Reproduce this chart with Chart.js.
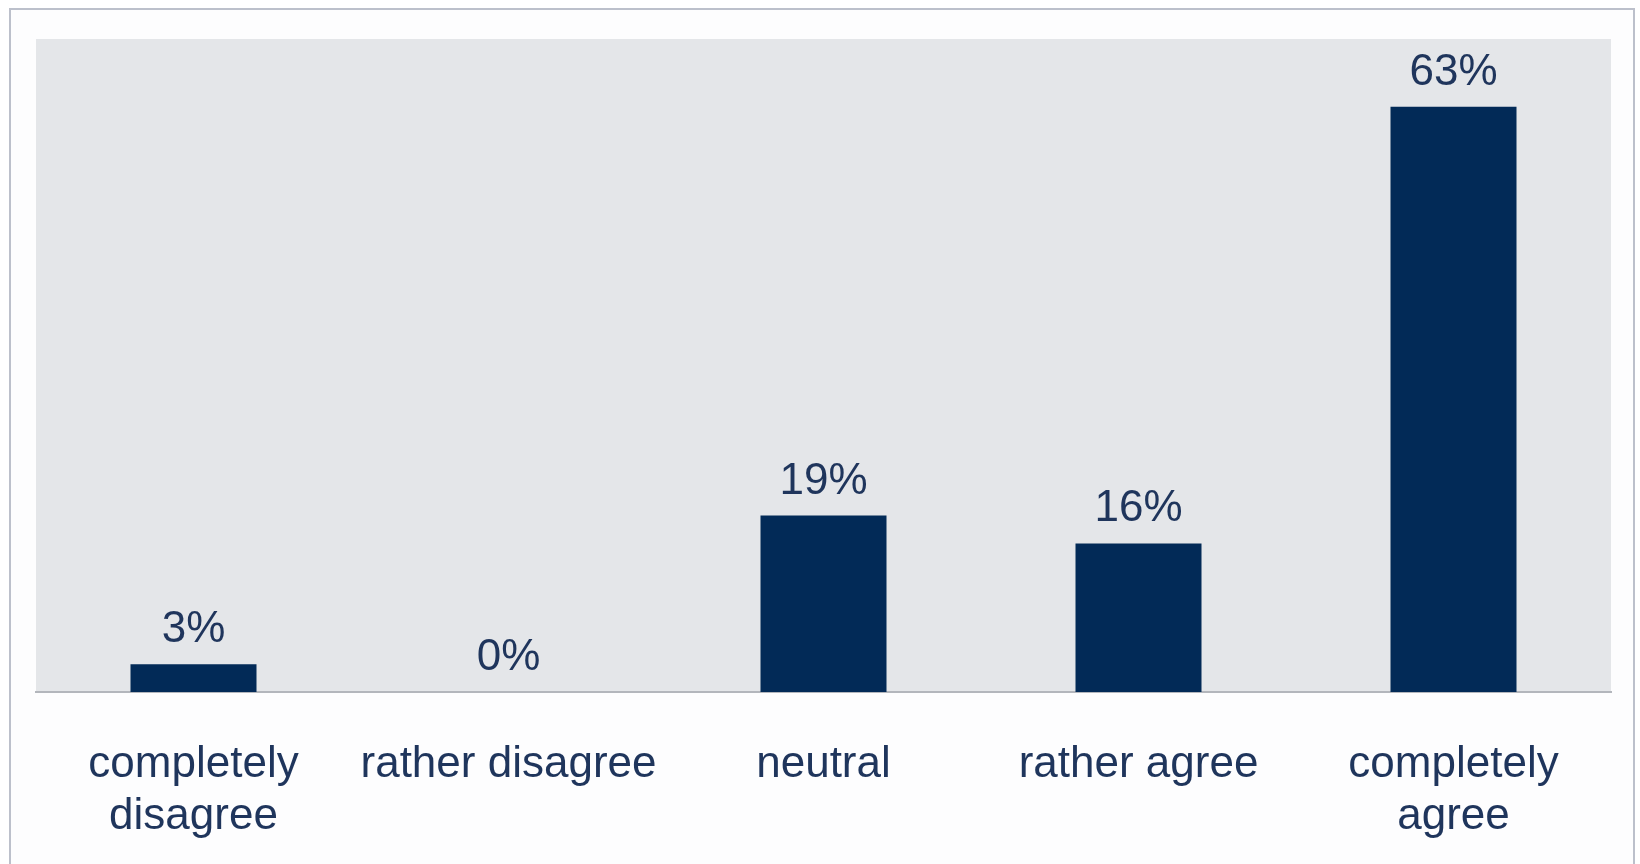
<!DOCTYPE html>
<html>
<head>
<meta charset="utf-8">
<title>Agreement survey</title>
<script src="https://cdn.jsdelivr.net/npm/chart.js@4.4.1/dist/chart.umd.min.js"></script>
<style>
  html, body { margin: 0; padding: 0; background: #ffffff; }
  #wrap { position: relative; width: 1640px; height: 864px; overflow: hidden; }
  #frame {
    position: absolute; left: 9px; top: 8px; width: 1626px; height: 900px;
    border: 2px solid #bcc0cb; background: #fdfdfe; box-sizing: border-box;
  }
  canvas { position: absolute; left: 0; top: 0; }
</style>
</head>
<body>
<div id="wrap">
  <div id="frame"></div>
  <canvas id="chart" width="1640" height="864"></canvas>
</div>
<script>
// Answer categories (multi-line labels as arrays)
const categories = [
  ['completely', 'disagree'],
  'rather disagree',
  'neutral',
  'rather agree',
  ['completely', 'agree']
];
// Share of respondents per answer, in percent
const shares = [3, 0, 19, 16, 63];
// Text printed above each bar
const shareLabels = ['3%', '0%', '19%', '16%', '63%'];

const NAVY = '#022a57';
const TEXT = '#1f355c';
const FONT = "'Liberation Sans', Arial, sans-serif";

// Grey panel behind the bars
const panelBackground = {
  id: 'panelBackground',
  beforeDraw(chart) {
    const { ctx, chartArea: a } = chart;
    ctx.save();
    ctx.fillStyle = '#e4e6e9';
    ctx.fillRect(a.left, a.top, a.right - a.left, a.bottom - a.top);
    ctx.restore();
  }
};

// Percentage text above every bar
const valueLabels = {
  id: 'valueLabels',
  afterDatasetsDraw(chart) {
    const { ctx } = chart;
    const meta = chart.getDatasetMeta(0);
    ctx.save();
    ctx.fillStyle = TEXT;
    ctx.font = '44px ' + FONT;
    ctx.textAlign = 'center';
    ctx.textBaseline = 'alphabetic';
    meta.data.forEach((bar, i) => {
      ctx.fillText(shareLabels[i], bar.x, bar.y - 22);
    });
    ctx.restore();
  }
};

new Chart(document.getElementById('chart'), {
  type: 'bar',
  data: {
    labels: categories,
    datasets: [{
      data: shares,
      backgroundColor: NAVY,
      borderWidth: 0,
      barPercentage: 0.4,
      categoryPercentage: 1.0
    }]
  },
  options: {
    responsive: false,
    devicePixelRatio: 1,
    animation: false,
    layout: { padding: { left: 36, right: 29, top: 39, bottom: 0 } },
    plugins: {
      legend: { display: false },
      tooltip: { enabled: false }
    },
    scales: {
      x: {
        grid: { display: false, drawTicks: false },
        border: { display: true, color: '#b3b6bc', width: 2 },
        ticks: {
          color: TEXT,
          padding: 46,
          font: { family: FONT, size: 44, lineHeight: 1.2 },
          maxRotation: 0,
          autoSkip: false
        },
        afterFit(scale) { scale.height = 172; }
      },
      y: {
        display: false,
        min: 0,
        max: 70.3
      }
    }
  },
  plugins: [panelBackground, valueLabels]
});
</script>
</body>
</html>
